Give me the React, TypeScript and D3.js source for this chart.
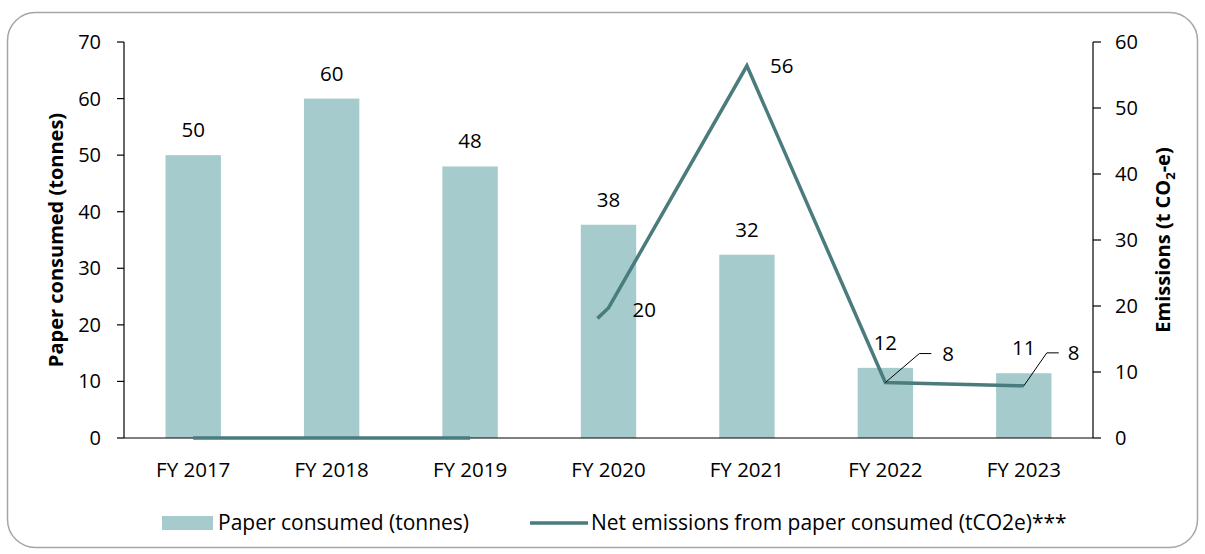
import React from "react";
import * as d3 from "d3";

const categories = ["FY 2017", "FY 2018", "FY 2019", "FY 2020", "FY 2021", "FY 2022", "FY 2023"];
const paperConsumed = [50, 60, 48, 37.7, 32.4, 12.4, 11.45];
const netEmissions = [0, 0, 0, 19.7, 56.4, 8.4, 7.9];
const leftTicks = [0, 10, 20, 30, 40, 50, 60, 70];
const rightTicks = [0, 10, 20, 30, 40, 50, 60];
const legendBar = "Paper consumed (tonnes)";
const legendLine = "Net emissions from paper consumed (tCO2e)***";

const W = 1205, H = 554;
const M = { left: 124, right: 1093, top: 42, bottom: 438 };
const FONT = "'Open Sans', sans-serif";
const BAR = "#a5cbcd";
const LINE = "#4a7b7d";

export default function App() {
  const x = d3.scaleBand<string>().domain(categories).range([M.left, M.right]).paddingInner(0.6).paddingOuter(0.3);
  const yL = d3.scaleLinear().domain([0, 70]).range([M.bottom, M.top]);
  const yR = d3.scaleLinear().domain([0, 60]).range([M.bottom, M.top]);
  const cx = (c: string) => (x(c) as number) + x.bandwidth() / 2;
  const fmt = d3.format(".0f");
  const pts = netEmissions.map((v, i) => [cx(categories[i]), yR(v)] as [number, number]);
  const line = d3.line();
  // first flat part, then the visible tail of the 2019->2020 segment and the rest
  const tailStart = d3.interpolateArray(pts[2], pts[3])(0.92) as [number, number];
  const path1 = line(pts.slice(0, 3)) || "";
  const path2 = line([tailStart, ...pts.slice(3)]) || "";
  const leaders = [
    { i: 5, dx: 34, dy: -29, h: 12, lx: 57 },
    { i: 6, dx: 23, dy: -33, h: 12, lx: 44 },
  ];

  return (
    <svg width={W} height={H} style={{ position: "absolute", left: 0, top: 0 }} fontFamily={FONT}>
      <rect x={7.5} y={12.5} width={1190} height={535} rx={28} ry={28} fill="#fff" stroke="#a6a6a6" strokeWidth={1.5} />
      {/* bars */}
      {categories.map((c, i) => (
        <rect key={c} x={x(c)} y={yL(paperConsumed[i])} width={x.bandwidth()} height={M.bottom - yL(paperConsumed[i])} fill={BAR} />
      ))}
      {/* bar labels */}
      {categories.map((c, i) => (
        <text key={"bl" + c} x={cx(c)} y={yL(paperConsumed[i]) - 18} textAnchor="middle" fontSize={20.5} fill="#000">
          {fmt(paperConsumed[i])}
        </text>
      ))}
      {/* x axis */}
      <line x1={M.left} x2={M.right} y1={M.bottom} y2={M.bottom} stroke="#000" strokeWidth={1.2} />
      {categories.map((c) => (
        <text key={"xt" + c} x={cx(c)} y={477} textAnchor="middle" fontSize={20.5} fill="#000">{c}</text>
      ))}
      {/* left axis */}
      <line x1={M.left} x2={M.left} y1={M.top} y2={M.bottom} stroke="#000" strokeWidth={1.2} />
      {leftTicks.map((t) => (
        <g key={"lt" + t}>
          <line x1={M.left - 7} x2={M.left} y1={yL(t)} y2={yL(t)} stroke="#000" strokeWidth={1.2} />
          <text x={101} y={yL(t) + 7} textAnchor="end" fontSize={20} fill="#000">{t}</text>
        </g>
      ))}
      {/* right axis */}
      <line x1={M.right} x2={M.right} y1={M.top} y2={M.bottom} stroke="#000" strokeWidth={1.2} />
      {rightTicks.map((t) => (
        <g key={"rt" + t}>
          <line x1={M.right} x2={M.right + 8} y1={yR(t)} y2={yR(t)} stroke="#000" strokeWidth={1.2} />
          <text x={1115} y={yR(t) + 7} textAnchor="start" fontSize={20} fill="#000">{t}</text>
        </g>
      ))}
      {/* axis titles */}
      <text transform={`translate(63,${(M.top + M.bottom) / 2}) rotate(-90)`} textAnchor="middle" fontSize={20} fontWeight="bold" fill="#000">
        Paper consumed (tonnes)
      </text>
      <text transform={`translate(1170,${(M.top + M.bottom) / 2}) rotate(-90)`} textAnchor="middle" fontSize={20} fontWeight="bold" fill="#000">
        Emissions (t CO<tspan fontSize={13} dy={5}>2</tspan><tspan dy={-5}>-e)</tspan>
      </text>
      {/* line */}
      <path d={path1} fill="none" stroke={LINE} strokeWidth={3.5} strokeLinejoin="round" />
      <path d={path2} fill="none" stroke={LINE} strokeWidth={3.5} strokeLinejoin="miter" />
      {/* line labels */}
      <text x={pts[3][0] + 24} y={pts[3][1] + 9} fontSize={20.5} fill="#000">{fmt(netEmissions[3])}</text>
      <text x={pts[4][0] + 23} y={pts[4][1] + 7} fontSize={20.5} fill="#000">{fmt(netEmissions[4])}</text>
      {leaders.map(({ i, dx, dy, h, lx }) => {
        const [px, py] = pts[i];
        return (
          <g key={"ll" + i}>
            <polyline points={`${px},${py} ${px + dx},${py + dy} ${px + dx + h},${py + dy}`} fill="none" stroke="#000" strokeWidth={1} />
            <text x={px + lx} y={py + dy + 7} fontSize={20.5} fill="#000">{fmt(netEmissions[i])}</text>
          </g>
        );
      })}
      {/* legend */}
      <rect x={162} y={516} width={51} height={14} fill={BAR} />
      <text x={218} y={530} fontSize={21} fill="#000">{legendBar}</text>
      <line x1={530} x2={588} y1={523} y2={523} stroke={LINE} strokeWidth={3.5} />
      <text x={591} y={530} fontSize={21} fill="#000">{legendLine}</text>
    </svg>
  );
}
